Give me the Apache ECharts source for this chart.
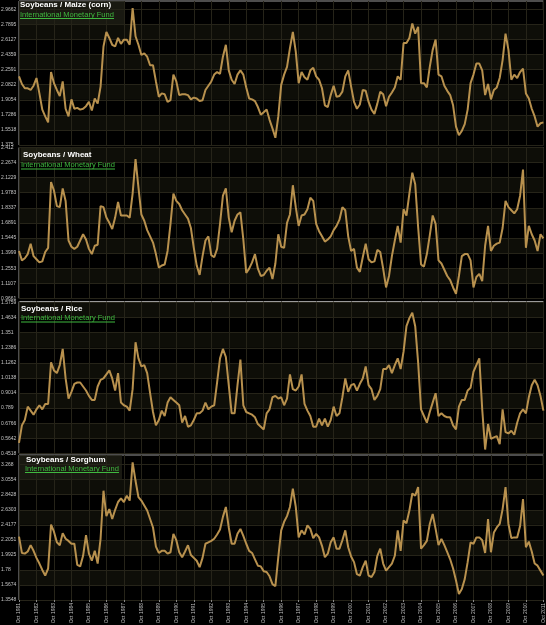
<!DOCTYPE html>
<html><head><meta charset="utf-8">
<script src="https://cdn.jsdelivr.net/npm/echarts@6/dist/echarts.min.js"></script>
<style>html,body{margin:0;padding:0;background:#000;} #c{width:546px;height:625px;}</style>
</head><body><div id="c"></div>
<script>
// ---- DATA ----
const startYear = 1981;
const monthNames = ['Oct','Dec','Feb','Apr','Jun','Aug'];
const categories = [];
for (let i = 0; i < 181; i++) categories.push(monthNames[i % 6] + ' ' + (startYear + Math.floor((i + 4) / 6)));

const maizeTicks = ['1.375','1.5518','1.7286','1.9054','2.0822','2.2591','2.4359','2.6127','2.7895','2.9662'];
const wheatTicks = ['0.9661','1.1107','1.2553','1.3999','1.5445','1.6891','1.8337','1.9783','2.1229','2.2674','2.412'];
const riceTicks = ['0.4518','0.5642','0.6766','0.789','0.9014','1.0138','1.1262','1.2386','1.351','1.4634','1.5759'];
const sorghumTicks = ['1.3548','1.5674','1.78','1.9925','2.2051','2.4177','2.6303','2.8428','3.0554','3.268'];

const maize = [
2.18,2.09,2.04,2.04,2.02,2.07,2.16,1.98,1.79,1.71,
1.64,2.23,2.10,2.02,1.95,2.12,1.80,1.71,1.91,1.80,
1.81,1.79,1.80,1.83,1.88,1.78,1.92,1.86,2.06,2.53,
2.70,2.63,2.55,2.53,2.63,2.56,2.61,2.61,2.55,2.98,
2.65,2.55,2.43,2.45,2.41,2.31,2.31,2.12,1.94,1.98,
1.97,1.88,1.90,2.20,2.12,1.96,1.97,1.97,1.96,1.91,
1.93,1.92,1.89,1.90,2.02,2.07,2.12,2.20,2.23,2.21,
2.41,2.55,2.25,2.14,2.09,2.20,2.25,2.20,2.05,1.92,
1.91,1.89,1.82,1.73,1.76,1.79,1.67,1.57,1.46,1.71,
2.08,2.20,2.29,2.51,2.70,2.47,2.10,2.23,2.17,2.14,
2.25,2.28,2.18,2.14,2.04,1.84,1.82,1.96,2.07,1.94,
1.95,2.00,2.18,2.25,2.06,1.88,1.80,1.85,2.02,2.01,
1.88,1.79,1.74,1.86,2.00,1.97,1.83,1.94,1.99,2.05,
2.18,2.14,2.57,2.57,2.63,2.80,2.68,2.76,2.10,2.10,
2.05,2.29,2.49,2.61,2.20,2.18,2.07,2.01,1.96,1.84,
1.59,1.49,1.54,1.62,1.79,2.10,2.20,2.33,2.33,2.25,
1.96,2.09,1.91,2.02,2.05,2.16,2.37,2.68,2.49,2.14,
2.20,2.16,2.23,2.27,1.98,1.92,1.80,1.71,1.59,1.63,
1.64];
const wheat = [
1.42,1.33,1.35,1.39,1.49,1.37,1.34,1.31,1.32,1.41,
1.45,2.08,2.00,1.85,1.84,2.02,1.90,1.52,1.46,1.44,
1.46,1.52,1.58,1.53,1.44,1.39,1.47,1.48,1.85,1.84,
1.74,1.69,1.63,1.74,1.89,1.76,1.76,1.76,1.74,1.97,
2.30,2.03,1.77,1.71,1.62,1.56,1.50,1.39,1.26,1.28,
1.29,1.42,1.68,1.97,1.90,1.87,1.81,1.77,1.73,1.64,
1.45,1.28,1.19,1.37,1.52,1.56,1.38,1.36,1.44,1.68,
1.95,2.02,1.74,1.60,1.71,1.77,1.79,1.53,1.21,1.25,
1.31,1.39,1.25,1.18,1.19,1.23,1.26,1.15,1.30,1.58,
1.46,1.45,1.69,1.77,2.05,1.84,1.66,1.76,1.77,1.82,
1.93,1.90,1.68,1.61,1.56,1.51,1.53,1.56,1.62,1.66,
1.72,1.84,1.81,1.56,1.42,1.44,1.26,1.22,1.36,1.49,
1.34,1.31,1.32,1.43,1.41,1.25,1.07,1.18,1.37,1.52,
1.66,1.50,1.82,1.76,1.97,2.17,2.06,1.65,1.29,1.27,
1.39,1.57,1.76,1.68,1.33,1.30,1.24,1.18,1.14,1.07,
1.01,1.18,1.37,1.39,1.39,1.33,1.07,1.17,1.20,1.13,
1.47,1.66,1.42,1.47,1.49,1.50,1.64,1.90,1.84,1.81,
1.78,1.82,1.95,2.20,1.45,1.66,1.58,1.52,1.42,1.58,
1.54];
const rice = [
0.53,0.66,0.70,0.80,0.77,0.74,0.78,0.81,0.78,0.82,
0.82,1.13,1.07,1.05,1.11,1.23,1.01,0.86,0.91,0.97,
0.98,0.98,0.95,0.92,0.88,0.85,0.85,0.95,1.00,1.01,
1.04,1.07,1.01,0.92,1.05,0.83,0.81,0.80,0.77,0.93,
1.28,1.16,1.10,1.11,1.05,0.90,0.76,0.66,0.70,0.77,
0.73,0.83,0.87,0.85,0.83,0.81,0.68,0.73,0.65,0.66,
0.70,0.75,0.75,0.77,0.83,0.78,0.80,0.81,0.98,1.16,
1.23,1.17,0.96,0.75,0.75,0.96,1.15,0.81,0.76,0.75,
0.74,0.72,0.67,0.65,0.63,0.75,0.78,0.87,0.88,0.86,
0.87,0.81,0.86,1.04,0.93,0.92,0.95,1.04,0.82,0.77,
0.73,0.65,0.65,0.71,0.66,0.71,0.65,0.70,0.80,0.73,
0.75,0.87,1.01,0.91,0.96,0.97,0.92,0.97,1.01,1.10,
0.96,0.93,0.85,0.88,0.93,1.08,1.08,1.11,1.05,1.11,
1.16,1.08,1.21,1.40,1.46,1.50,1.40,1.13,0.78,0.73,
0.68,0.76,0.83,0.90,0.73,0.75,0.73,0.72,0.72,0.66,
0.63,0.80,0.85,0.85,0.92,0.94,1.06,1.11,1.16,0.78,
0.48,0.67,0.56,0.57,0.58,0.52,0.78,0.61,0.60,0.62,
0.59,0.68,0.75,0.78,0.75,0.87,0.96,1.00,0.96,0.88,
0.77];
const sorghum = [
2.25,2.02,2.01,2.04,2.13,2.05,1.95,1.87,1.78,1.70,
1.80,2.42,2.32,2.17,2.13,2.30,2.22,2.19,2.15,2.15,
1.85,1.83,1.98,2.27,2.01,1.91,2.05,1.87,2.22,2.90,
2.54,2.64,2.50,2.63,2.74,2.79,2.74,2.83,2.76,3.30,
3.04,2.81,2.76,2.69,2.62,2.50,2.38,2.11,2.02,2.05,
2.05,2.01,2.03,2.29,2.20,2.03,1.96,2.04,2.13,1.99,
1.95,1.91,1.82,1.95,2.15,2.17,2.19,2.22,2.28,2.35,
2.53,2.67,2.38,2.15,2.15,2.29,2.36,2.26,2.15,2.05,
2.02,1.93,1.84,1.83,1.76,1.75,1.69,1.58,1.55,1.96,
2.34,2.46,2.54,2.67,2.93,2.67,2.24,2.34,2.28,2.41,
2.36,2.23,2.29,2.24,2.12,1.96,2.01,2.17,2.24,2.08,
2.08,2.20,2.34,2.10,1.97,1.89,1.72,1.70,1.82,1.91,
1.70,1.68,1.75,1.98,2.08,1.87,1.77,1.82,1.87,1.98,
2.34,2.05,2.48,2.44,2.62,2.86,2.83,2.95,2.08,2.13,
2.19,2.43,2.57,2.36,2.13,2.22,2.13,2.03,1.93,1.80,
1.63,1.44,1.51,1.65,1.89,2.17,2.15,2.24,2.24,2.20,
2.02,2.50,2.03,2.31,2.38,2.43,2.64,2.95,2.43,2.23,
2.24,2.24,2.40,2.78,2.10,2.18,2.04,1.87,1.84,1.77,
1.70];

const titles = ['Soybeans / Maize (corn)','Soybeans / Wheat','Soybeans / Rice','Soybeans / Sorghum'];
const sourceText = 'International Monetary Fund';

// ---- LAYOUT / STYLE ----
const panels = [
  {data: maize, ticks: maizeTicks, max: 3.063, top: 1, height: 144,
   tx: 20, ty: 5, sx: 20, sy: 14.5, box: [19, 1, 105, 24]},
  {data: wheat, ticks: wheatTicks, max: 2.412, top: 147.5, height: 150.8,
   tx: 23, ty: 154.5, sx: 21, sy: 165, box: [21, 148, 70, 13]},
  {data: rice, ticks: riceTicks, max: 1.584, top: 301.5, height: 151.8,
   tx: 21, ty: 308.5, sx: 21, sy: 318, box: null},
  {data: sorghum, ticks: sorghumTicks, max: 3.4045, top: 455, height: 145,
   tx: 26, ty: 459.5, sx: 25, sy: 468.5, box: [19, 455, 103, 25]}
];
const LINE = '#b8914e';
const GRIDLINE = '#262419';
const BAND = ['#000000', '#0e0e08'];

const grids = [], xAxes = [], yAxes = [], series = [], graphics = [];
panels.forEach((p, i) => {
  grids.push({left: 19, width: 524.4, top: p.top, height: p.height, show: true,
    borderColor: '#9a9a9a', borderWidth: 1, backgroundColor: 'transparent', containLabel: false, outerBoundsMode: 'none'});
  const last = i === panels.length - 1;
  xAxes.push({type: 'category', gridIndex: i, data: categories, boundaryGap: false,
    axisLine: {show: false},
    axisTick: {show: last, interval: 5, length: 2, lineStyle: {color: '#888'}},
    axisLabel: {show: last, interval: 5, rotate: 90, fontSize: 5, color: '#bdbdbd', margin: 3,
      fontFamily: 'Liberation Sans'},
    splitLine: {show: true, interval: 5, lineStyle: {color: GRIDLINE, width: 1}}
  });
  const vals = p.ticks.map(Number);
  yAxes.push({type: 'value', gridIndex: i, min: vals[0], max: p.max, scale: true,
    axisLine: {show: false},
    axisTick: {show: false, customValues: vals},
    axisLabel: {show: true, customValues: vals, fontSize: 5, color: '#c4c4c4', align: 'left', margin: 18,
      fontFamily: 'Liberation Sans',
      formatter: v => { const s = p.ticks.find(t => Math.abs(Number(t) - v) < 1e-6); return s || ''; }},
    splitLine: {show: true, lineStyle: {color: GRIDLINE, width: 1}},
    splitArea: {show: true, areaStyle: {color: BAND}}
  });
  series.push({type: 'line', xAxisIndex: i, yAxisIndex: i, data: p.data, showSymbol: false, symbol: 'none',
    lineStyle: {color: LINE, width: 2}, z: 5});
  if (p.box) graphics.push({type: 'rect', shape: {x: p.box[0], y: p.box[1], width: p.box[2], height: p.box[3]},
    style: {fill: 'rgba(36,36,24,0.7)'}, z: 10});
  graphics.push({type: 'text', x: p.tx, y: p.ty, z: 11,
    style: {text: titles[i], fill: '#ffffff', font: 'bold 8px "Liberation Sans"', verticalAlign: 'middle'}});
  graphics.push({type: 'text', x: p.sx, y: p.sy, z: 11,
    style: {text: sourceText, fill: '#3fb83f', font: '7.5px "Liberation Sans"', verticalAlign: 'middle'}});
  graphics.push({type: 'line', z: 11, shape: {x1: p.sx, y1: p.sy + 4, x2: p.sx + 94, y2: p.sy + 4},
    style: {stroke: '#3fb83f', lineWidth: 1}});
});

const chart = echarts.init(document.getElementById('c'), null, {renderer: 'canvas'});
chart.setOption({
  backgroundColor: '#000',
  animation: false,
  grid: grids, xAxis: xAxes, yAxis: yAxes, series: series,
  graphic: graphics
});
</script></body></html>
